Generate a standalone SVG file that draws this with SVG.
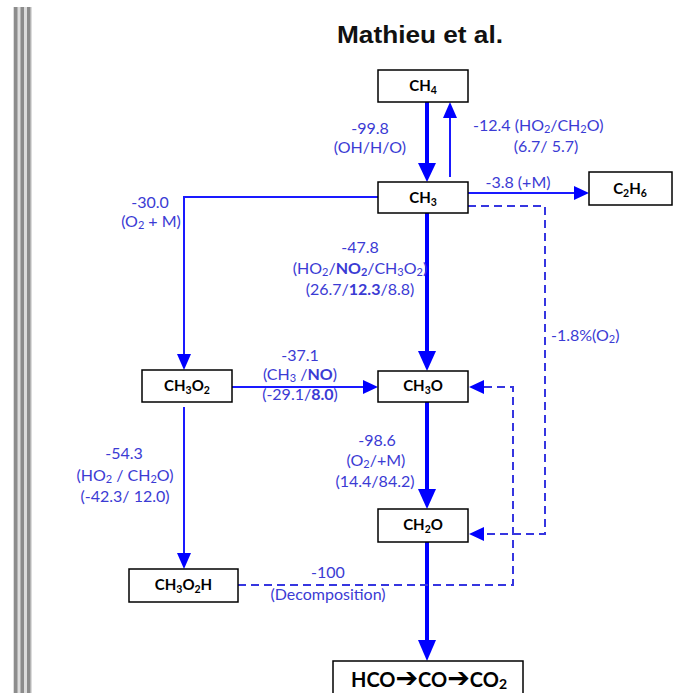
<svg xmlns="http://www.w3.org/2000/svg" width="673" height="693" viewBox="0 0 673 693">
  <style>
    .box { fill: #ffffff; stroke: #000000; stroke-width: 1.5; }
    .node { font-family: Lato, "Liberation Sans", sans-serif; font-weight: bold; font-size: 15px; fill: #000000; text-anchor: middle; }
    .sub { font-size: 10.5px; }
    .lbl { font-family: Lato, "Liberation Sans", sans-serif; font-size: 16px; fill: #3b3bd4; text-anchor: middle; }
    .lsub { font-size: 11px; }
    .b { font-weight: bold; }
    .arr { font-family: "DejaVu Sans", sans-serif; font-weight: bold; font-size: 27px; }
    .thick { stroke: #0000ff; stroke-width: 4; fill: none; }
    .thin { stroke: #1a1aff; stroke-width: 2; fill: none; }
    .dash { stroke: #3636e0; stroke-width: 2; fill: none; stroke-dasharray: 8 5; }
    .head { fill: #0000ff; }
    .title { font-family: "Liberation Sans", Arial, sans-serif; font-weight: bold; font-size: 23px; fill: #111111; text-anchor: middle; }
  </style>

  <rect x="0" y="0" width="673" height="693" fill="#ffffff"/>

  <!-- page edge stripes -->
  <g id="edge">
    <rect x="13" y="7" width="19" height="686" fill="#dcdcdc"/>
    <rect x="14" y="7" width="3.5" height="686" fill="#8c8c8c"/>
    <rect x="20.5" y="7" width="3.5" height="686" fill="#8c8c8c"/>
    <rect x="27" y="7" width="3.5" height="686" fill="#8c8c8c"/>
  </g>

  <text class="title" x="420" y="43" textLength="166" lengthAdjust="spacingAndGlyphs">Mathieu et al.</text>

  <!-- connectors -->
  <g id="connectors">
    <!-- CH4 -> CH3 -->
    <line class="thick" x1="427" y1="102" x2="427" y2="165"/>
    <polygon class="head" points="418,163 436,163 427,182"/>
    <!-- CH3 -> CH4 -->
    <line class="thin" x1="450" y1="177" x2="450" y2="116"/>
    <polygon class="head" points="443,118 457,118 450,102"/>
    <!-- CH3 -> C2H6 -->
    <line class="thin" x1="468" y1="193" x2="576" y2="193"/>
    <polygon class="head" points="574,186 574,200 589,193"/>
    <!-- CH3 -> CH3O2 -->
    <polyline class="thin" points="378,197 184,197 184,356"/>
    <polygon class="head" points="177,354 191,354 184,370"/>
    <!-- CH3 -> CH3O -->
    <line class="thick" x1="427" y1="213" x2="427" y2="353"/>
    <polygon class="head" points="418,351 436,351 427,371"/>
    <!-- CH3O2 -> CH3O -->
    <line class="thin" x1="232" y1="387" x2="365" y2="387"/>
    <polygon class="head" points="363,380 363,394 378,387"/>
    <!-- CH3O -> CH2O -->
    <line class="thick" x1="427" y1="402" x2="427" y2="491"/>
    <polygon class="head" points="418,489 436,489 427,509"/>
    <!-- CH3O2 -> CH3O2H -->
    <line class="thin" x1="184" y1="407" x2="184" y2="555"/>
    <polygon class="head" points="177,553 191,553 184,569"/>
    <!-- CH2O -> HCO -->
    <line class="thick" x1="427" y1="542" x2="427" y2="642"/>
    <polygon class="head" points="418,640 436,640 427,661"/>
    <!-- CH3 -> CH2O (dashed) -->
    <path class="dash" d="M468,206 H545 V534 H484"/>
    <polygon class="head" points="484,527 484,541 469,534"/>
    <!-- CH3O2H -> CH3O (dashed) -->
    <path class="dash" d="M238,585 H513 V387 H484"/>
    <polygon class="head" points="484,380 484,394 469,387"/>
  </g>

  <!-- connector labels -->
  <g id="labels">
    <text class="lbl" x="370" y="134">-99.8</text>
    <text class="lbl" x="370" y="153">(OH/H/O)</text>

    <text class="lbl" x="473" y="131" style="text-anchor:start">-12.4 (HO<tspan class="lsub" dy="2">2</tspan><tspan dy="-2">/CH</tspan><tspan class="lsub" dy="2">2</tspan><tspan dy="-2">O)</tspan></text>
    <text class="lbl" x="546" y="152">(6.7/ 5.7)</text>

    <text class="lbl" x="518" y="188">-3.8 (+M)</text>

    <text class="lbl" x="150" y="208">-30.0</text>
    <text class="lbl" x="151" y="227">(O<tspan class="lsub" dy="2">2</tspan><tspan dy="-2"> + M)</tspan></text>

    <text class="lbl" x="360" y="253">-47.8</text>
    <text class="lbl" x="360" y="274">(HO<tspan class="lsub" dy="2">2</tspan><tspan dy="-2">/</tspan><tspan class="b">NO</tspan><tspan class="lsub b" dy="2">2</tspan><tspan dy="-2">/CH</tspan><tspan class="lsub" dy="2">3</tspan><tspan dy="-2">O</tspan><tspan class="lsub" dy="2">2</tspan><tspan dy="-2">)</tspan></text>
    <text class="lbl" x="360" y="295">(26.7/<tspan class="b">12.3</tspan>/8.8)</text>

    <text class="lbl" x="551" y="341" style="text-anchor:start">-1.8%(O<tspan class="lsub" dy="2">2</tspan><tspan dy="-2">)</tspan></text>

    <text class="lbl" x="300" y="361">-37.1</text>
    <text class="lbl" x="300" y="380">(CH<tspan class="lsub" dy="2">3</tspan><tspan dy="-2"> /</tspan><tspan class="b">NO</tspan>)</text>
    <text class="lbl" x="300" y="400">(-29.1/<tspan class="b">8.0</tspan>)</text>

    <text class="lbl" x="377" y="446">-98.6</text>
    <text class="lbl" x="376" y="466">(O<tspan class="lsub" dy="2">2</tspan><tspan dy="-2">/+M)</tspan></text>
    <text class="lbl" x="375" y="487">(14.4/84.2)</text>

    <text class="lbl" x="124" y="459">-54.3</text>
    <text class="lbl" x="125" y="481">(HO<tspan class="lsub" dy="2">2</tspan><tspan dy="-2"> / CH</tspan><tspan class="lsub" dy="2">2</tspan><tspan dy="-2">O)</tspan></text>
    <text class="lbl" x="125" y="502">(-42.3/ 12.0)</text>

    <text class="lbl" x="328" y="578">-100</text>
    <text class="lbl" x="328" y="600">(Decomposition)</text>
  </g>

  <!-- nodes -->
  <g id="node-ch4">
    <rect class="box" x="378" y="70" width="90" height="32"/>
    <text class="node" x="423" y="91">CH<tspan class="sub" dy="3">4</tspan></text>
  </g>
  <g id="node-ch3">
    <rect class="box" x="378" y="182" width="90" height="31"/>
    <text class="node" x="423" y="203">CH<tspan class="sub" dy="3">3</tspan></text>
  </g>
  <g id="node-c2h6">
    <rect class="box" x="589" y="172" width="83" height="33"/>
    <text class="node" x="630" y="194">C<tspan class="sub" dy="3">2</tspan><tspan dy="-3">H</tspan><tspan class="sub" dy="3">6</tspan></text>
  </g>
  <g id="node-ch3o2">
    <rect class="box" x="142" y="370" width="90" height="32"/>
    <text class="node" x="187" y="391">CH<tspan class="sub" dy="3">3</tspan><tspan dy="-3">O</tspan><tspan class="sub" dy="3">2</tspan></text>
  </g>
  <g id="node-ch3o">
    <rect class="box" x="378" y="371" width="90" height="31"/>
    <text class="node" x="423" y="391">CH<tspan class="sub" dy="3">3</tspan><tspan dy="-3">O</tspan></text>
  </g>
  <g id="node-ch2o">
    <rect class="box" x="378" y="509" width="90" height="33"/>
    <text class="node" x="423" y="530">CH<tspan class="sub" dy="3">2</tspan><tspan dy="-3">O</tspan></text>
  </g>
  <g id="node-ch3o2h">
    <rect class="box" x="129" y="569" width="109" height="33"/>
    <text class="node" x="183.5" y="590">CH<tspan class="sub" dy="3">3</tspan><tspan dy="-3">O</tspan><tspan class="sub" dy="3">2</tspan><tspan dy="-3">H</tspan></text>
  </g>
  <g id="node-hco">
    <rect class="box" x="333" y="661" width="190" height="45"/>
    <text class="node" x="429" y="687" style="font-size:20px">HCO<tspan class="arr">➔</tspan>CO<tspan class="arr">➔</tspan>CO<tspan style="font-size:14px" dy="2">2</tspan></text>
  </g>
</svg>
